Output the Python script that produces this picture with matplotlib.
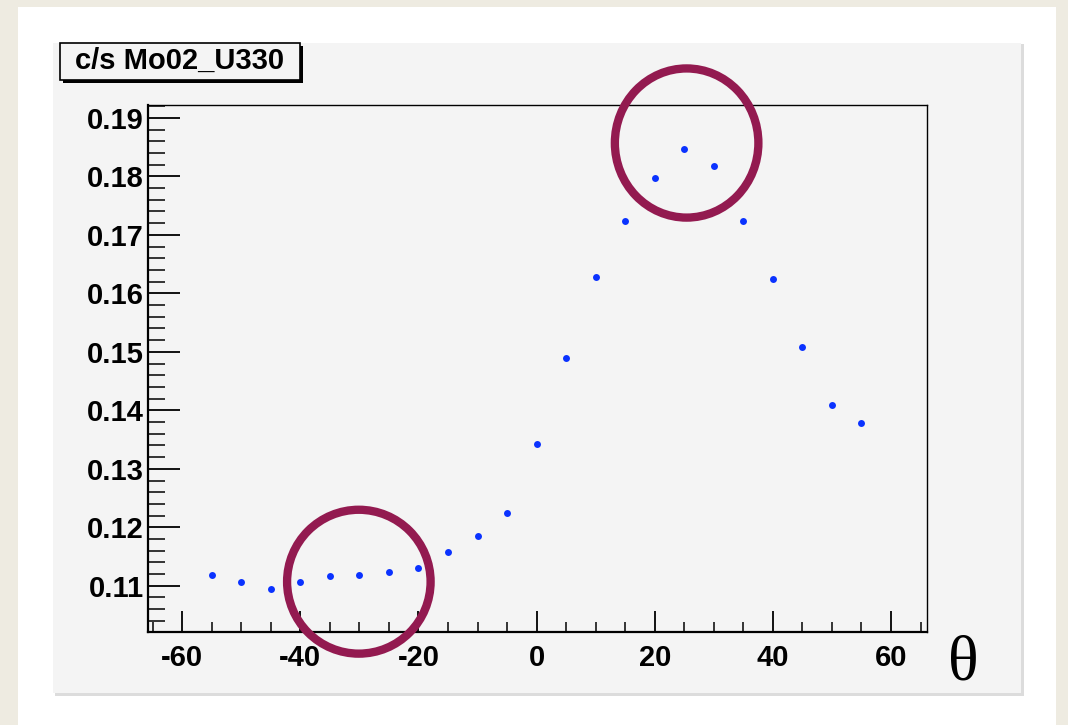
import numpy as np
import matplotlib.pyplot as plt
from matplotlib.patches import Rectangle, Ellipse
from matplotlib.ticker import MultipleLocator

# angle [deg] and count rate [c/s]
theta = [-55, -50, -45, -40, -35, -30, -25, -20, -15, -10, -5, 0,
         5, 10, 15, 20, 25, 30, 35, 40, 45, 50, 55]
rate = [0.1118, 0.1107, 0.1095, 0.1106, 0.1116, 0.1119, 0.1124, 0.1130,
        0.1158, 0.1185, 0.1225, 0.1343, 0.1489, 0.1628, 0.1724, 0.1797,
        0.1847, 0.1818, 0.1724, 0.1625, 0.1508, 0.1409, 0.1378]
title = "c/s Mo02_U330"

W, H = 1068, 725


def fx(px):
    return px / W


def fy(py):
    return 1 - py / H


fig = plt.figure(figsize=(W / 100, H / 100), dpi=100, facecolor="#eeebe1")

# white page and grey ROOT canvas
fig.patches.append(Rectangle((fx(18), 0), fx(1056) - fx(18), fy(7),
                             transform=fig.transFigure, facecolor="white",
                             edgecolor="none", zorder=-3))
fig.patches.append(Rectangle((fx(55), fy(696)), fx(1024) - fx(55), fy(44) - fy(696),
                             transform=fig.transFigure, facecolor="#dcdcdc",
                             edgecolor="none", zorder=-2))
fig.patches.append(Rectangle((fx(53), fy(693)), fx(1021) - fx(53), fy(43) - fy(693),
                             transform=fig.transFigure, facecolor="#f4f4f4",
                             edgecolor="none", zorder=-1))

ax = fig.add_axes([fx(148), fy(632), fx(927) - fx(148), fy(105) - fy(632)])
ax.set_facecolor("#f4f4f4")
ax.plot(theta, rate, "o", color="#0a32ff", markersize=5, markeredgewidth=0)

ax.set_xlim(-65.8, 66.1)
ax.set_ylim(0.1021, 0.1922)

ax.xaxis.set_major_locator(MultipleLocator(20))
ax.xaxis.set_minor_locator(MultipleLocator(5))
ax.yaxis.set_major_locator(MultipleLocator(0.01))
ax.yaxis.set_minor_locator(MultipleLocator(0.002))
ax.set_xticks(np.arange(-60, 61, 20))
ax.set_yticks(np.arange(0.11, 0.191, 0.01))
ax.set_xticklabels([f"{v:d}" for v in range(-60, 61, 20)])
ax.set_yticklabels([f"{v:.2f}" for v in np.arange(0.11, 0.191, 0.01)])

ax.tick_params(axis="x", which="major", direction="in", length=15, width=1.3, pad=9)
ax.tick_params(axis="x", which="minor", direction="in", length=7, width=1.1)
ax.tick_params(axis="y", which="major", direction="in", length=23, width=1.3, pad=3)
ax.tick_params(axis="y", which="minor", direction="in", length=12, width=1.1)
for lab in ax.get_xticklabels() + ax.get_yticklabels():
    lab.set_fontfamily("Liberation Sans")
    lab.set_fontweight("bold")
    lab.set_fontsize(21)
for side in ["top", "right"]:
    ax.spines[side].set_linewidth(1.0)
for side in ["left", "bottom"]:
    ax.spines[side].set_linewidth(1.6)

# highlighted regions
ax.add_patch(Ellipse((-30.1, 0.1107), 24.3, 0.0246, fill=False,
                     edgecolor="#931a50", linewidth=6, clip_on=False, zorder=5))
ax.add_patch(Ellipse((25.4, 0.1857), 24.3, 0.0255, fill=False,
                     edgecolor="#931a50", linewidth=6, clip_on=False, zorder=5))

# title box with shadow
fig.patches.append(Rectangle((fx(63), fy(83)), fx(303) - fx(63), fy(46) - fy(83),
                             transform=fig.transFigure, facecolor="black",
                             edgecolor="none", zorder=3))
fig.patches.append(Rectangle((fx(60), fy(80)), fx(300) - fx(60), fy(43) - fy(80),
                             transform=fig.transFigure, facecolor="#f4f4f4",
                             edgecolor="black", linewidth=1.2, zorder=4))
fig.text(fx(180), fy(61), title, ha="center", va="center", fontsize=21,
         fontweight="bold", family="Liberation Sans", zorder=5)

# axis title
fig.text(fx(963), fy(664), "θ", ha="center", va="center", fontsize=46,
         family="Liberation Serif")

fig.savefig("out.png", dpi=100, facecolor=fig.get_facecolor())
